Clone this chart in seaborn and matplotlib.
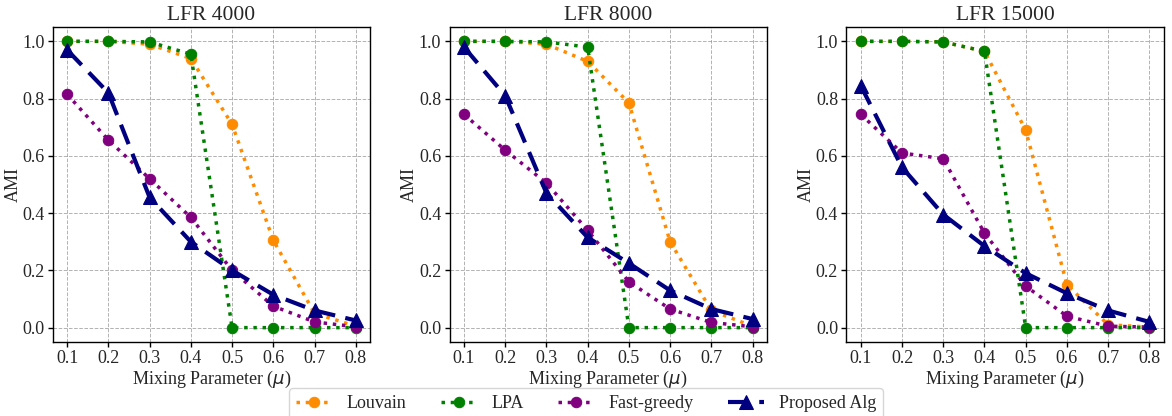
import numpy as np
import pandas as pd
import matplotlib
matplotlib.use("Agg")
import matplotlib.pyplot as plt
import seaborn as sns

mu = [0.1, 0.2, 0.3, 0.4, 0.5, 0.6, 0.7, 0.8]
titles = ["LFR 4000", "LFR 8000", "LFR 15000"]

louvain_4000 = [1.0, 1.0, 0.99, 0.94, 0.71, 0.305, 0.05, 0.005]
lpa_4000 = [1.0, 1.0, 0.998, 0.955, 0.0, 0.0, 0.0, 0.0]
fastgreedy_4000 = [0.815, 0.655, 0.52, 0.385, 0.20, 0.075, 0.02, 0.003]
proposed_4000 = [0.97, 0.82, 0.455, 0.30, 0.20, 0.115, 0.06, 0.025]

louvain_8000 = [1.0, 1.0, 0.99, 0.93, 0.785, 0.30, 0.06, 0.005]
lpa_8000 = [1.0, 1.0, 0.998, 0.98, 0.0, 0.0, 0.0, 0.0]
fastgreedy_8000 = [0.745, 0.62, 0.505, 0.34, 0.16, 0.065, 0.018, 0.003]
proposed_8000 = [0.98, 0.81, 0.47, 0.315, 0.225, 0.13, 0.065, 0.03]

louvain_15000 = [1.0, 1.0, 0.998, 0.965, 0.69, 0.15, 0.01, 0.002]
lpa_15000 = [1.0, 1.0, 0.998, 0.965, 0.0, 0.0, 0.0, 0.0]
fastgreedy_15000 = [0.745, 0.61, 0.59, 0.33, 0.145, 0.04, 0.005, 0.002]
proposed_15000 = [0.845, 0.56, 0.395, 0.285, 0.19, 0.12, 0.06, 0.02]

series_names = ["Louvain", "LPA", "Fast-greedy", "Proposed Alg"]
panels = [
    [louvain_4000, lpa_4000, fastgreedy_4000, proposed_4000],
    [louvain_8000, lpa_8000, fastgreedy_8000, proposed_8000],
    [louvain_15000, lpa_15000, fastgreedy_15000, proposed_15000],
]

styles = {
    "Louvain": dict(color="darkorange", linestyle=":", marker="o", markersize=7.5, linewidth=2.5),
    "LPA": dict(color="green", linestyle=":", marker="o", markersize=7.5, linewidth=2.5),
    "Fast-greedy": dict(color="purple", linestyle=":", marker="o", markersize=7.5, linewidth=2.5),
    "Proposed Alg": dict(color="navy", linestyle=(0, (5, 2.5)), marker="^", markersize=10.5, linewidth=3),
}

sns.set_theme(style="ticks")
plt.rcParams["font.family"] = ["Liberation Serif", "DejaVu Serif"]
plt.rcParams["mathtext.fontset"] = "dejavusans"

fig, axes = plt.subplots(1, 3, figsize=(11.72, 4.16), dpi=100)
fig.subplots_adjust(left=0.045, right=0.993, top=0.935, bottom=0.178, wspace=0.25)

for ax, title, vals in zip(axes, titles, panels):
    for name, y in zip(series_names, vals):
        df = pd.DataFrame({"mu": mu, "AMI": y})
        st = styles[name]
        sns.lineplot(data=df, x="mu", y="AMI", ax=ax, label=name,
                     color=st["color"], linestyle=st["linestyle"], marker=st["marker"],
                     markersize=st["markersize"], linewidth=st["linewidth"],
                     markeredgecolor=st["color"], legend=False)
    ax.set_title(title, fontsize=15.5, pad=5)
    ax.set_xticks(mu)
    ax.set_xticklabels([f"{m:.1f}" for m in mu])
    ax.set_yticks([0.0, 0.2, 0.4, 0.6, 0.8, 1.0])
    ax.tick_params(labelsize=13, length=3.5, width=1.0, pad=2.5, color="black")
    ax.set_xlabel(r"Mixing Parameter ($\mu$)", fontsize=13, labelpad=1)
    ax.set_ylabel("AMI", fontsize=13, labelpad=0.5)
    ax.grid(True, linestyle="--", color="gray", alpha=0.6, linewidth=0.7)
    for sp in ax.spines.values():
        sp.set_color("black")
        sp.set_linewidth(1.0)

handles, labels = axes[0].get_legend_handles_labels()
fig.legend(handles, labels, loc="lower center", ncol=4, fontsize=13,
           bbox_to_anchor=(0.5, -0.03), frameon=True, columnspacing=1.9, handlelength=2.0)

fig.savefig("out.png", dpi=100)
